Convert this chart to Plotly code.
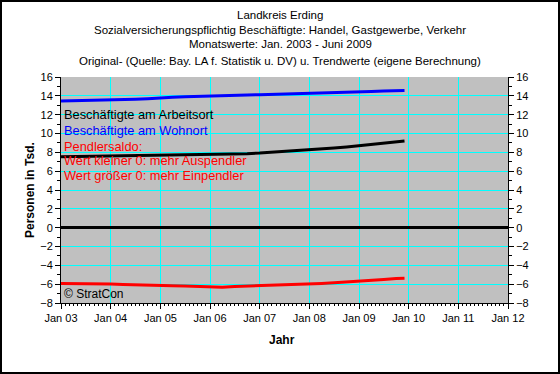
import plotly.graph_objects as go

dates = ["2003-01-01", "2003-04-01", "2003-07-01", "2003-10-01",
         "2004-01-01", "2004-04-01", "2004-07-01", "2004-10-01",
         "2005-01-01", "2005-04-01", "2005-07-01", "2005-10-01",
         "2006-01-01", "2006-04-01", "2006-07-01", "2006-10-01",
         "2007-01-01", "2007-04-01", "2007-07-01", "2007-10-01",
         "2008-01-01", "2008-04-01", "2008-07-01", "2008-10-01",
         "2009-01-01", "2009-04-01", "2009-07-01", "2009-10-01",
         "2009-12-01"]

wohnort = [13.45, 13.47, 13.50, 13.52,
           13.55, 13.60, 13.65, 13.70,
           13.80, 13.85, 13.90, 13.95,
           14.00, 14.05, 14.10, 14.10,
           14.12, 14.15, 14.18, 14.22,
           14.25, 14.30, 14.33, 14.38,
           14.42, 14.47, 14.52, 14.55,
           14.57]

saldo = [-5.93, -5.93, -5.93, -5.95,
         -5.97, -6.03, -6.08, -6.10,
         -6.12, -6.18, -6.20, -6.22,
         -6.25, -6.32, -6.24, -6.20,
         -6.18, -6.10, -6.08, -6.03,
         -6.00, -5.92, -5.85, -5.78,
         -5.70, -5.60, -5.50, -5.40,
         -5.37]

arbeitsort = [7.52, 7.54, 7.56, 7.57,
              7.58, 7.59, 7.60, 7.62,
              7.64, 7.66, 7.69, 7.72,
              7.75, 7.78, 7.82, 7.86,
              7.92, 8.00, 8.08, 8.16,
              8.25, 8.36, 8.46, 8.57,
              8.70, 8.85, 9.00, 9.13,
              9.20]

title_lines = ["Landkreis Erding",
               "Sozialversicherungspflichtig Beschäftigte: Handel, Gastgewerbe, Verkehr",
               "Monatswerte: Jan. 2003 - Juni 2009",
               "Original- (Quelle: Bay. LA f. Statistik u. DV) u. Trendwerte (eigene Berechnung)"]

legend_lines = [("Beschäftigte am Arbeitsort", "#000000"),
                ("Beschäftigte am Wohnort", "#0000FF"),
                ("Pendlersaldo:", "#FF0000"),
                ("Wert kleiner 0: mehr Auspendler", "#FF0000"),
                ("Wert größer 0: mehr Einpendler", "#FF0000")]

W, H = 560, 374
ML, MR, MT, MB = 61, 52, 77, 71
PW, PH = W - ML - MR, H - MT - MB
FONT = "Liberation Sans, Arial, sans-serif"

fig = go.Figure()
fig.add_trace(go.Scatter(x=dates, y=wohnort, mode="lines",
                         line=dict(color="#0000FF", width=3), hoverinfo="skip"))
fig.add_trace(go.Scatter(x=dates, y=arbeitsort, mode="lines",
                         line=dict(color="#000000", width=3), hoverinfo="skip"))
fig.add_trace(go.Scatter(x=dates, y=saldo, mode="lines",
                         line=dict(color="#FF0000", width=3), hoverinfo="skip"))
fig.add_trace(go.Scatter(x=dates, y=saldo, mode="lines", yaxis="y2",
                         line=dict(color="rgba(0,0,0,0)", width=0), hoverinfo="skip"))

ann = []
def px_x(p):
    return (p - ML) / PW
def px_y(p):
    return 1 - (p - MT) / PH

title_y = [15, 30, 44.5, 60.5]
for t, yy in zip(title_lines, title_y):
    ann.append(dict(text=t, xref="paper", yref="paper", x=px_x(280), y=px_y(yy),
                    xanchor="center", yanchor="middle", showarrow=False,
                    font=dict(family=FONT, size=11.5, color="#000000")))

leg_y = [114.5, 130, 146, 160.5, 175.5]
for (t, c), yy in zip(legend_lines, leg_y):
    ann.append(dict(text=t, xref="paper", yref="paper", x=px_x(62), y=px_y(yy),
                    xanchor="left", yanchor="middle", showarrow=False,
                    font=dict(family=FONT, size=12.8, color=c)))

ann.append(dict(text="© StratCon", xref="paper", yref="paper", x=px_x(62), y=px_y(294),
                xanchor="left", yanchor="middle", showarrow=False,
                font=dict(family=FONT, size=12, color="#000000")))
ann.append(dict(text="<b>Personen in Tsd.</b>", xref="paper", yref="paper", x=px_x(30), y=px_y(190),
                xanchor="center", yanchor="middle", showarrow=False, textangle=-90,
                font=dict(family=FONT, size=12, color="#000000")))
ann.append(dict(text="<b>Jahr</b>", xref="paper", yref="paper", x=px_x(282), y=px_y(340),
                xanchor="center", yanchor="middle", showarrow=False,
                font=dict(family=FONT, size=12, color="#000000")))

fig.update_layout(
    width=W, height=H,
    margin=dict(l=ML, r=MR, t=MT, b=MB, pad=0),
    paper_bgcolor="#FFFFFF",
    plot_bgcolor="#C0C0C0",
    showlegend=False,
    font=dict(family=FONT, size=11, color="#000000"),
    annotations=ann,
    xaxis=dict(type="date", range=["2003-01-01", "2012-01-01"],
               tickformat="%b %y", dtick="M12", tick0="2003-01-01",
               showgrid=True, gridcolor="#00FFFF", gridwidth=1,
               ticks="outside", ticklen=5, tickcolor="#000000",
               showline=True, linecolor="#000000", linewidth=1,
               minor=dict(dtick="M1", ticks="outside", ticklen=2, tickcolor="#000000"),
               tickfont=dict(family=FONT, size=11), zeroline=False, fixedrange=True),
    yaxis=dict(range=[-8, 16], dtick=2, tick0=0,
               showgrid=True, gridcolor="#00FFFF", gridwidth=1,
               zeroline=True, zerolinecolor="#000000", zerolinewidth=3,
               ticks="outside", ticklen=5, tickcolor="#000000",
               showline=True, linecolor="#000000", linewidth=1,
               minor=dict(dtick=1, ticks="outside", ticklen=3, tickcolor="#000000"),
               tickfont=dict(family=FONT, size=11), fixedrange=True),
    yaxis2=dict(range=[-8, 16], dtick=2, tick0=0, overlaying="y", side="right",
                showgrid=False, zeroline=False,
                ticks="outside", ticklen=5, tickcolor="#000000",
                showline=True, linecolor="#000000", linewidth=1,
                minor=dict(dtick=1, ticks="outside", ticklen=3, tickcolor="#000000"),
                tickfont=dict(family=FONT, size=11), fixedrange=True),
    shapes=[dict(type="rect", xref="paper", yref="paper",
                 x0=px_x(1), x1=px_x(W - 1), y0=px_y(H - 1), y1=px_y(1),
                 line=dict(color="#000000", width=2), fillcolor="rgba(0,0,0,0)",
                 layer="above")],
)

fig.write_html("out.html", config={"displayModeBar": False},
               post_script="document.body.style.margin='0';document.body.style.overflow='hidden';")
